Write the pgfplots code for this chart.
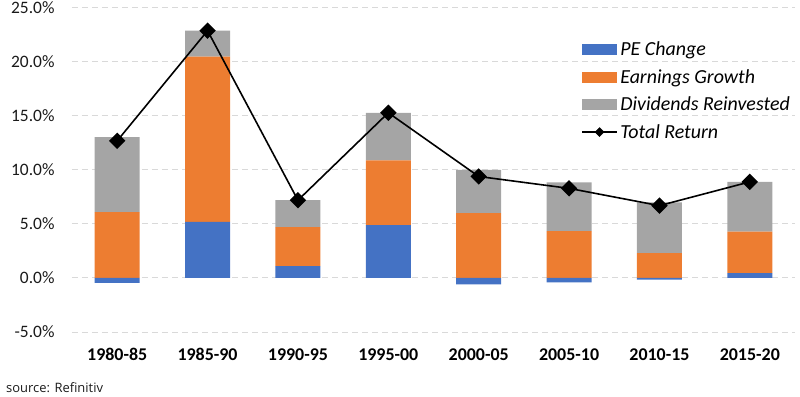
\documentclass[border=0pt]{standalone}
\usepackage{fontspec}
\setmainfont{Carlito}
\newfontfamily\srcfont{Open Sans}
\usepackage{pgfplots}
\pgfplotsset{compat=1.18}
\definecolor{pe}{HTML}{4472C4}
\definecolor{eg}{HTML}{ED7D31}
\definecolor{dv}{HTML}{A5A5A5}
\definecolor{gridc}{HTML}{D9D9D9}
\definecolor{txt}{HTML}{1A1A1A}
\pgfplotsset{
  common/.style={
    scale only axis, width=723bp, height=324bp,
    xmin=-0.5, xmax=7.5, ymin=-5, ymax=25,
    axis line style={draw=none},
    major tick length=0pt,
  },
  arealeg/.style={legend image code/.code={\fill[##1] (0bp,-5.5bp) rectangle (35bp,5.5bp);}},
}
\begin{document}
\begin{tikzpicture}
\begin{axis}[common,
  name=main,
  ybar stacked, stack negative=separate, bar width=45bp,
  xtick={0,...,7},
  xticklabels={1980-85,1985-90,1990-95,1995-00,2000-05,2005-10,2010-15,2015-20},
  xticklabel style={font=\bfseries\fontsize{18}{20}\selectfont, text=black, yshift=-13bp},
  ytick={-5,0,5,10,15,20,25},
  yticklabel={\pgfmathprintnumber[fixed,fixed zerofill,precision=1]{\tick}\%},
  /pgf/number format/assume math mode=true,
  yticklabel style={font=\fontsize{17.5}{20}\selectfont, text=txt, xshift=-14bp},
  ymajorgrids, major grid style={gridc, line width=1bp, dash pattern=on 6bp off 4bp},
  extra y ticks={0}, extra y tick labels={},
  extra y tick style={grid style={gridc, line width=1.3bp, solid}},
  legend cell align=left,
  legend style={draw=none, fill=none, at={(0.70,0.910)}, anchor=north west,
    font=\itshape\fontsize{20}{22}\selectfont, row sep=7.2bp,
    nodes={inner sep=2.5bp}},
]
\addplot[fill=pe, draw=none, arealeg] coordinates {(0,-0.45) (1,5.2) (2,1.1) (3,4.9) (4,-0.6) (5,-0.4) (6,-0.15) (7,0.45)};
\addlegendentry{PE Change}
\addplot[fill=eg, draw=none, arealeg] coordinates {(0,6.1) (1,15.3) (2,3.6) (3,6.0) (4,6.0) (5,4.35) (6,2.3) (7,3.85)};
\addlegendentry{Earnings Growth}
\addplot[fill=dv, draw=none, arealeg] coordinates {(0,6.95) (1,2.4) (2,2.5) (3,4.4) (4,4.0) (5,4.5) (6,4.7) (7,4.6)};
\addlegendentry{Dividends Reinvested}
\addlegendimage{legend image code/.code={\draw[black, line width=1.6bp] (0bp,0bp) -- (35bp,0bp); \fill[black] (17.5bp,0bp) ++(-4.5bp,0) -- ++(4.5bp,4.5bp) -- ++(4.5bp,-4.5bp) -- ++(-4.5bp,-4.5bp) -- cycle;}}
\addlegendentry{Total Return}
\end{axis}
\begin{axis}[common, hide axis, at={(main.south west)}, anchor=south west]
\addplot[black, line width=1.6bp, mark=square*, mark size=5bp, mark options={rotate=45, solid, fill=black}]
  coordinates {(0,12.7) (1,22.9) (2,7.2) (3,15.3) (4,9.4) (5,8.3) (6,6.7) (7,8.9)};
\end{axis}
\node[anchor=west, font=\srcfont\fontsize{13}{16}\selectfont, text=txt, inner sep=0pt] at ([xshift=-66bp,yshift=-56bp]main.south west) {source: Refinitiv};
\pgfresetboundingbox
\path[use as bounding box] ([xshift=-72bp,yshift=-65bp]main.south west) rectangle ++(800bp,397bp);
\end{tikzpicture}
\end{document}
